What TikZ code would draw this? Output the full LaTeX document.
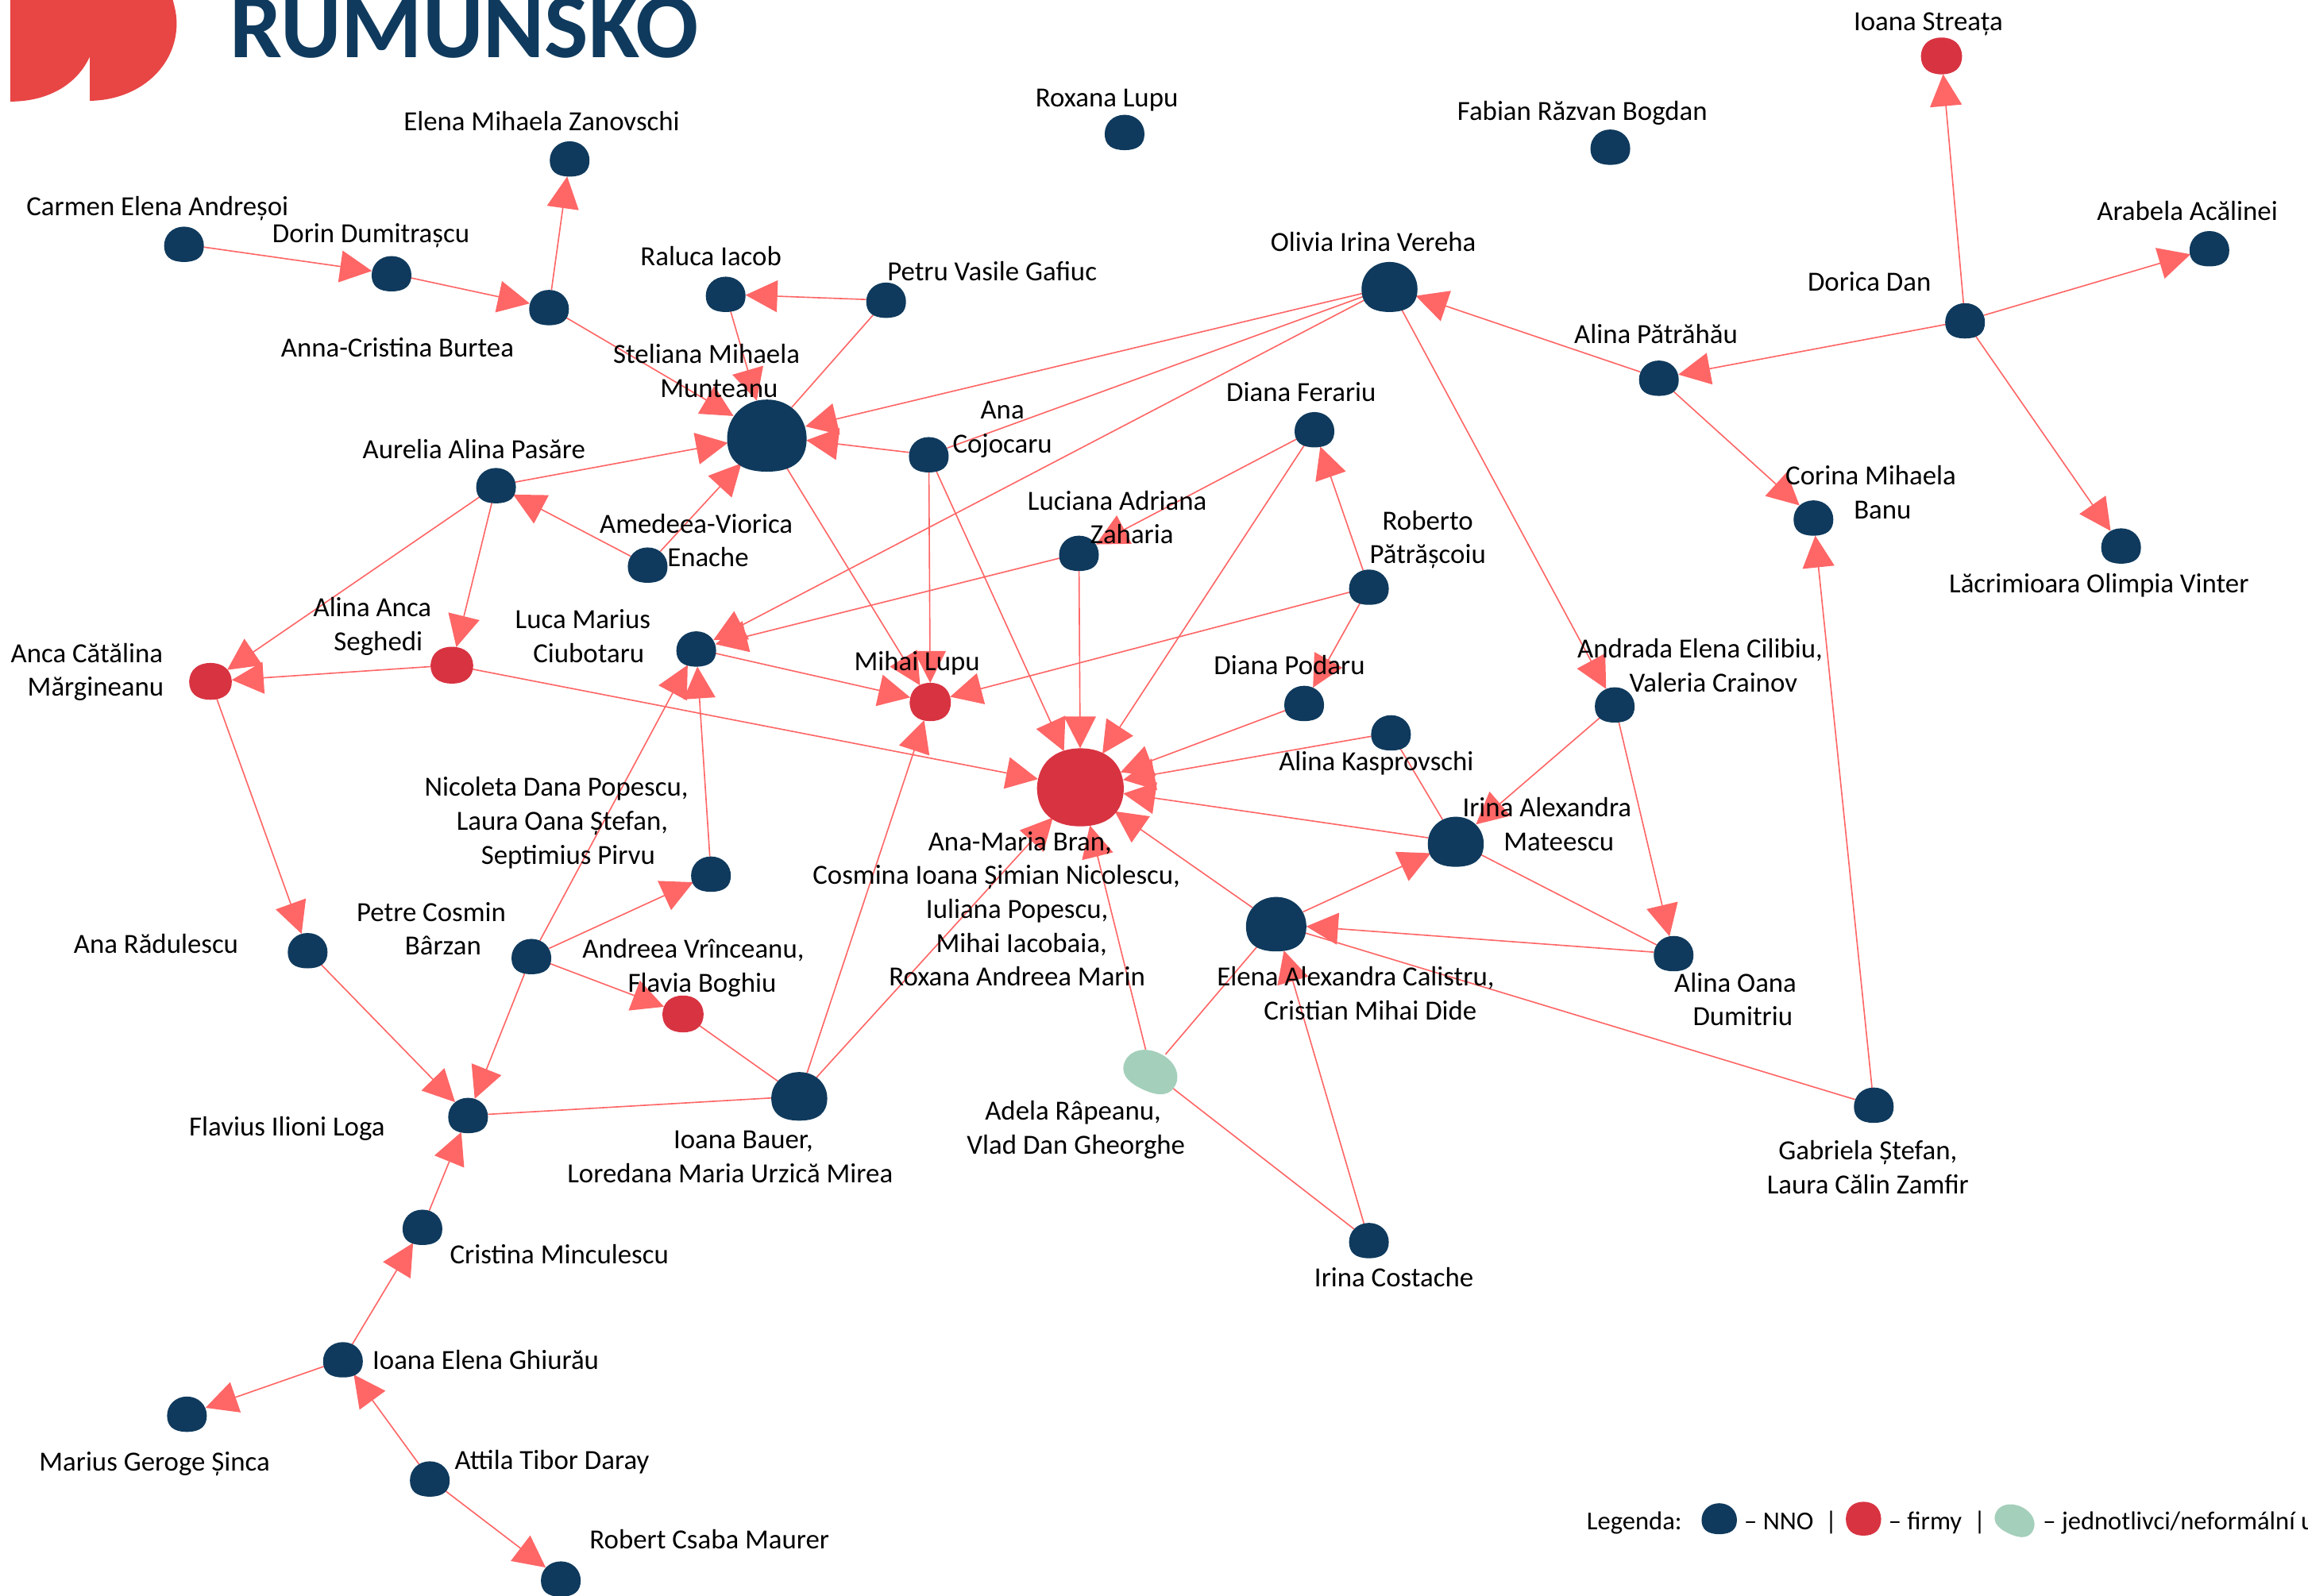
\documentclass[tikz,border=0pt]{standalone}
\usepackage{fontspec}
\setmainfont{Carlito}
\usetikzlibrary{arrows.meta,shapes.geometric}
\pgfdeclarelayer{edgelayer}
\pgfsetlayers{edgelayer,main}
\definecolor{navy}{HTML}{0F3A5D}
\definecolor{firm}{HTML}{D83341}
\definecolor{indiv}{HTML}{A4CFBB}
\definecolor{edgecol}{HTML}{FF6666}
\definecolor{logored}{HTML}{E84545}
\newcommand\nudge[1]{\hspace*{#1\dimexpr 1.138pt\relax}}
% \blob[rotation]{name}{x}{y}{w}{h}{colour}
\newcommand\blob[7][0]{%
  \node[anchorblob,minimum width=#5*0.02cm,minimum height=#6*0.02cm] (#2) at (#3,#4) {};
  \fill[#7,shift={(#3,#4)},rotate=#1,xscale=#5/2,yscale=#6/2]
    (0,-1) .. controls (0.6,-1) and (1,-0.5) .. (1,0.08)
    .. controls (1,0.68) and (0.68,1) .. (0,1)
    .. controls (-0.68,1) and (-1,0.68) .. (-1,0.08)
    .. controls (-1,-0.5) and (-0.6,-1) .. (0,-1) -- cycle;
}
% squarer outline used by the companies
\newcommand\sqblob[6]{%
  \node[anchorblob,minimum width=#4*0.02cm,minimum height=#5*0.02cm] (#1) at (#2,#3) {};
  \fill[#6,shift={(#2,#3)},xscale=#4/2,yscale=#5/2]
    (0,-1) .. controls (0.6,-1) and (0.97,-0.62) .. (1,0)
    .. controls (1,0.64) and (0.64,1) .. (0,1)
    .. controls (-0.64,1) and (-1,0.64) .. (-1,0)
    .. controls (-0.97,-0.62) and (-0.6,-1) .. (0,-1) -- cycle;
}
\newcommand\sm[3]{\blob{#1}{#2}{#3}{27}{24}{navy}}
\tikzset{
  anchorblob/.style={ellipse,inner sep=0pt,outer sep=0pt},
  arr/.style={draw=edgecol,line width=0.5pt,-{Triangle[length=12.3pt,width=12.3pt,fill=edgecol]}},
  lin/.style={draw=edgecol,line width=0.5pt},
  lbl/.style={align=center,inner sep=0pt,outer sep=0pt,text=black,yshift=-1.14pt,
    font=\fontsize{10.7}{13.09}\selectfont,
    execute at begin node=\strut,execute at end node=\strut},
  lgd/.style={lbl,anchor=west,font=\fontsize{10}{13.09}\selectfont},
}
\begin{document}
\begin{tikzpicture}[x=0.02cm,y=-0.02cm]
\useasboundingbox (0,0) rectangle (1568,1084.5);
\clip (0,0) rectangle (1568,1084.5);
\fill[logored] (7,-2) -- (7,69) .. controls (32,69) and (52,58) .. (61,38.5) -- (61,68.5)
  .. controls (95,68) and (120,45) .. (120,16) .. controls (120,8) and (118,3) .. (117,-2) -- cycle;
\node[anchor=base west,inner sep=0pt,text=navy,font=\fontsize{36}{36}\selectfont\bfseries] (title) at (156,39) {RUMUNSKO};

% ---- nodes
\sm{zan}{387}{108}
\sm{carmen}{125}{166}
\sm{dorin}{266}{186}
\sm{anna}{373}{209}
\sm{raluca}{493}{200}
\sm{petru}{602}{204}
\blob{munt}{521}{296}{54}{49}{navy}
\sm{aurelia}{337}{330}
\sm{amed}{440}{384}
\sm{anac}{631}{309}
\blob{olivia}{944}{195}{38}{34}{navy}
\sm{ferar}{893}{292}
\sm{lucia}{733}{376}
\sm{robert}{930}{399}
\sm{podaru}{886}{478}
\sm{kaspr}{945}{498}
\sm{andrada}{1097}{479}
\sm{patr}{1127}{257}
\sm{dorica}{1335}{218}
\sqblob{streata}{1319}{38}{28}{25}{firm}
\sm{arabela}{1501}{169}
\sm{corina}{1232}{352}
\sm{vinter}{1441}{371}
\sm{roxana}{764}{90}
\sm{fabian}{1094}{100}
\sqblob{seghedi}{307}{452}{29}{25}{firm}
\sqblob{margin}{143}{463}{29}{25}{firm}
\sm{luca}{473}{441}
\sqblob{lupu}{632}{477}{28}{26}{firm}
\sqblob{bran}{734}{535}{59}{53}{firm}
\sm{nicol}{483}{594}
\sm{cosmin}{361}{650}
\sm{radul}{209}{646}
\sqblob{andreea}{464}{689}{28}{25}{firm}
\sm{flavius}{318}{758}
\blob{bauer}{543}{745}{38}{33}{navy}
\blob{matee}{989}{572}{38}{34}{navy}
\blob{calis}{867}{628}{41}{37}{navy}
\sm{oana}{1137}{648}
\sm{gabriela}{1273}{751}
\blob[-25]{adela}{782}{728}{38}{27}{indiv}
\sm{costache}{930}{843}
\sm{cristina}{287}{834}
\sm{ghiurau}{233}{924}
\sm{marius}{127}{961}
\sm{attila}{292}{1005}
\sm{maurer}{381}{1073}

% ---- connectors
\begin{pgfonlayer}{edgelayer}
\foreach \a/\b in {carmen/dorin,dorin/anna,anna/zan,anna/munt,raluca/munt,petru/raluca,
  aurelia/munt,amed/aurelia,amed/munt,anac/munt,anac/lupu,anac/bran,munt/lupu,
  olivia/munt,olivia/luca,olivia/andrada,patr/olivia,patr/corina,dorica/patr,dorica/streata,
  dorica/arabela,dorica/vinter,gabriela/corina,ferar/lucia,ferar/bran,robert/ferar,robert/podaru,
  robert/lupu,lucia/luca,lucia/bran,podaru/bran,kaspr/bran,matee/bran,calis/bran,calis/matee,
  andrada/matee,andrada/oana,oana/calis,costache/calis,seghedi/bran,seghedi/margin,
  aurelia/margin,aurelia/seghedi,margin/radul,radul/flavius,cosmin/flavius,cosmin/andreea,
  cosmin/nicol,cosmin/luca,nicol/luca,luca/lupu,bauer/lupu,bauer/bran,adela/bran,
  cristina/flavius,ghiurau/cristina,ghiurau/marius,attila/ghiurau,attila/maurer}
  {\draw[arr] (\a) -- (\b);}
\foreach \a/\b in {petru/munt,olivia/anac,kaspr/matee,matee/oana,bauer/andreea,bauer/flavius,
  adela/calis,adela/costache,gabriela/calis}
  {\draw[lin] (\a) -- (\b);}
\end{pgfonlayer}

% ---- labels
\node[lbl] (t1) at (368,82) {Elena Mihaela Zanovschi};
\node[lbl] (t2) at (107,140) {Carmen Elena Andreșoi};
\node[lbl] (t3) at (252,158) {Dorin Dumitrașcu};
\node[lbl] (t4) at (270,236) {Anna-Cristina Burtea};
\node[lbl] (t5) at (483,174) {Raluca Iacob};
\node[lbl] (t6) at (674,184) {Petru Vasile Gafiuc};
\node[lbl] (t7) at (480,253.5) {Steliana Mihaela\\\nudge{8.5}Munteanu};
\node[lbl] (t8) at (681,291.5) {Ana\\Cojocaru};
\node[lbl] (t9) at (322,305) {Aurelia Alina Pasăre};
\node[lbl] (t10) at (473,368.5) {Amedeea-Viorica\\\nudge{8}Enache};
\node[lbl] (t11) at (884,266) {Diana Ferariu};
\node[lbl] (t12) at (759,353) {Luciana Adriana\\\nudge{10}Zaharia};
\node[lbl] (t13) at (970,366.5) {Roberto\\Pătrășcoiu};
\node[lbl] (t14) at (933,164) {Olivia Irina Vereha};
\node[lbl] (t15) at (1125,227) {Alina Pătrăhău};
\node[lbl] (t16) at (1270,191) {Dorica Dan};
\node[lbl] (t17) at (1310,14) {Ioana Streața};
\node[lbl] (t18) at (1486,143) {Arabela Acălinei};
\node[lbl] (t19) at (1271,336) {Corina Mihaela\\\nudge{8}Banu};
\node[lbl] (t20) at (1426,396) {Lăcrimioara Olimpia Vinter};
\node[lbl] (t21) at (752,66) {Roxana Lupu};
\node[lbl] (t22) at (1075,75) {Fabian Răzvan Bogdan};
\node[lbl] (t23) at (253,425.5) {Alina Anca\\\nudge{4}Seghedi};
\node[lbl] (t24) at (59,456.5) {Anca Cătălina\\\nudge{6}Mărgineanu};
\node[lbl] (t25) at (396,433.5) {Luca Marius\\\nudge{4}Ciubotaru};
\node[lbl] (t26) at (623,449) {Mihai Lupu};
\node[lbl] (t27) at (876,452) {Diana Podaru};
\node[lbl] (t28) at (935,517) {Alina Kasprovschi};
\node[lbl] (t29) at (1155,453.5) {Andrada Elena Cilibiu,\\\nudge{9}Valeria Crainov};
\node[lbl] (t30) at (1051,561.5) {Irina Alexandra\\\nudge{8}Mateescu};
\node[lbl] (t31) at (378,559) {Nicoleta Dana Popescu,\\\nudge{4}Laura Oana Ștefan,\\\nudge{8}Septimius Pirvu};
\node[lbl] (t32) at (677,619) {\nudge{16}Ana-Maria Bran,\\Cosmina Ioana Șimian Nicolescu,\\\nudge{14}Iuliana Popescu,\\\nudge{17}Mihai Iacobaia,\\\nudge{14}Roxana Andreea Marin};
\node[lbl] (t33) at (293,632.5) {Petre Cosmin\\\nudge{8}Bârzan};
\node[lbl] (t34) at (106,641) {Ana Rădulescu};
\node[lbl] (t35) at (471,657.5) {Andreea Vrînceanu,\\\nudge{6}Flavia Boghiu};
\node[lbl] (t36) at (921,676.5) {Elena Alexandra Calistru,\\\nudge{10}Cristian Mihai Dide};
\node[lbl] (t37) at (1179,680.5) {Alina Oana\\\nudge{5}Dumitriu};
\node[lbl] (t38) at (731,767.5) {\nudge{-2}Adela Râpeanu,\\Vlad Dan Gheorghe};
\node[lbl] (t39) at (496,787.5) {\nudge{9}Ioana Bauer,\\Loredana Maria Urzică Mirea};
\node[lbl] (t40) at (1269,794.5) {Gabriela Ștefan,\\Laura Călin Zamfir};
\node[lbl] (t41) at (195,765) {Flavius Ilioni Loga};
\node[lbl] (t42) at (947,868) {Irina Costache};
\node[lbl] (t43) at (380,852) {Cristina Minculescu};
\node[lbl] (t44) at (330,924) {Ioana Elena Ghiurău};
\node[lbl] (t45) at (105,993) {Marius Geroge Șinca};
\node[lbl] (t46) at (375,992) {Attila Tibor Daray};
\node[lbl] (t47) at (482,1046) {Robert Csaba Maurer};

% ---- legend
\node[lgd] (lg0) at (1078,1033) {Legenda:};
\blob{lg1}{1168}{1032}{24}{21}{navy}
\node[lgd] (lg2) at (1185,1033) {– NNO};
\node[lgd,anchor=center] (lg3) at (1244,1033) {|};
\sqblob{lg4}{1266}{1032}{24}{23}{firm}
\node[lgd] (lg5) at (1283,1033) {– firmy};
\node[lgd,anchor=center] (lg6) at (1345,1033) {|};
\blob[-25]{lg7}{1369}{1033}{28}{20}{indiv}
\node[lgd] (lg8) at (1388,1033) {– jednotlivci/neformální us};
\end{tikzpicture}
\end{document}
